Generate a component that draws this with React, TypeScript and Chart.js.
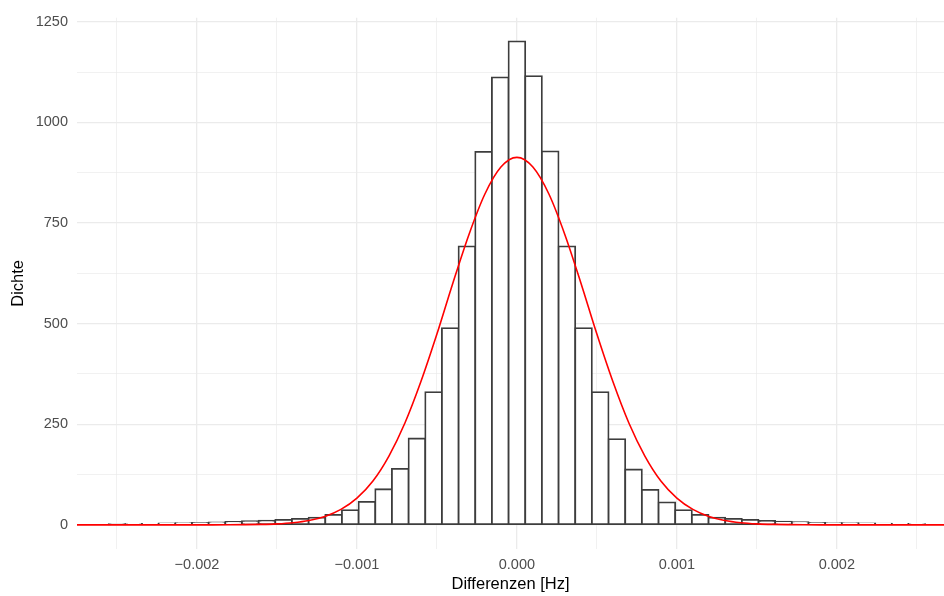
import { useEffect, useRef } from "react";
import { Chart, registerables } from "chart.js";

Chart.register(...registerables);

// Histogram: bin width (Hz) and bin indices (bin centre = index * width)
const binWidth = 0.00010417;
const binIndex = [
  -24, -23, -22, -21, -20, -19, -18, -17, -16, -15, -14, -13, -12, -11, -10, -9, -8, -7, -6, -5, -4, -3, -2, -1,
  0, 1, 2, 3, 4, 5, 6, 7, 8, 9, 10, 11, 12, 13, 14, 15, 16, 17, 18, 19, 20, 21, 22, 23, 24,
];
const density = [
  1.2, 1.8, 2.5, 3.3, 4.0, 4.9, 5.8, 7.4, 9.0, 10.6, 12.3, 14.7, 18.0, 24.6, 36.8, 57.3, 88.4, 139, 214.5, 330, 488.7, 692, 926.6, 1111.7,
  1201, 1115, 928, 692, 488.7, 330, 213, 137.5, 86.8, 55.7, 36.8, 24.6, 18.0, 14.7, 12.3, 9.8, 8.2, 6.5, 4.9, 4.5, 4.0, 3.3, 2.9, 2.5, 2.0,
];

// Fitted normal density curve (red line)
const curveX = [
  -0.00275, -0.0025, -0.0022, -0.002, -0.0019, -0.0018, -0.0017, -0.0016, -0.0015, -0.0014, -0.0013, -0.0012,
  -0.0011, -0.001, -0.0009, -0.0008, -0.0007, -0.0006, -0.0005, -0.0004, -0.0003, -0.0002, -0.0001, 0,
  0.0001, 0.0002, 0.0003, 0.0004, 0.0005, 0.0006, 0.0007, 0.0008, 0.0009, 0.001, 0.0011, 0.0012,
  0.0013, 0.0014, 0.0015, 0.0016, 0.0017, 0.0018, 0.0019, 0.002, 0.0022, 0.0025, 0.00267,
];
const curveY = [
  0, 0, 0, 0.01, 0.05, 0.17, 0.45, 1.1, 2.5, 5.4, 10.9, 21,
  38.4, 66.5, 109, 171, 253, 356, 474, 601, 721, 822, 889, 913,
  889, 822, 721, 601, 474, 356, 253, 171, 109, 66.5, 38.4, 21,
  10.9, 5.4, 2.5, 1.1, 0.45, 0.17, 0.05, 0.01, 0, 0, 0,
];

const xMajorTicks = [-0.002, -0.001, 0, 0.001, 0.002];
const xTickLabels = ["\u22120.002", "\u22120.001", "0.000", "0.001", "0.002"];
const xMinorTicks = [-0.0025, -0.0015, -0.0005, 0.0005, 0.0015, 0.0025];
const yMajorTicks = [0, 250, 500, 750, 1000, 1250];
const yTickLabels = ["0", "250", "500", "750", "1000", "1250"];
const yMinorTicks = [125, 375, 625, 875, 1125];

const xTitle = "Differenzen [Hz]";
const yTitle = "Dichte";

const FONT = "'Liberation Sans', Arial, Helvetica, sans-serif";

function findIdx(list: number[], v: number) {
  for (let i = 0; i < list.length; i++) if (Math.abs(list[i] - v) < 1e-9) return i;
  return -1;
}

export default function App() {
  const ref = useRef<HTMLCanvasElement | null>(null);

  useEffect(() => {
    document.body.style.margin = "0";
    const canvas = ref.current;
    if (!canvas) return;

    const bars = binIndex.map((k, i) => ({ x: k * binWidth, y: density[i] }));
    const curve = curveX.map((x, i) => ({ x, y: curveY[i] }));

    const chart = new Chart(canvas, {
      type: "bar",
      data: {
        datasets: [
          {
            type: "line",
            data: curve,
            borderColor: "#FF0000",
            borderWidth: 1.6,
            pointRadius: 0,
            fill: false,
            cubicInterpolationMode: "monotone",
            order: 0,
          } as any,
          {
            type: "bar",
            data: bars,
            backgroundColor: "#FFFFFF",
            borderColor: "#3d3d3d",
            borderWidth: 1.8,
            borderSkipped: false,
            categoryPercentage: 1,
            barPercentage: 1,
            inflateAmount: 0.9,
            order: 1,
          } as any,
        ],
      },
      options: {
        responsive: false,
        animation: false,
        devicePixelRatio: 1,
        layout: { padding: { top: 12, right: 0, left: 0, bottom: 0 } },
        plugins: { legend: { display: false }, tooltip: { enabled: false } },
        scales: {
          x: {
            type: "linear",
            offset: false,
            min: -0.00275,
            max: 0.00267,
            afterBuildTicks: (s: any) => {
              s.ticks = [...xMajorTicks, ...xMinorTicks].sort((a, b) => a - b).map((v) => ({ value: v }));
            },
            afterFit: (s: any) => {
              s.height = 47;
            },
            ticks: {
              autoSkip: false,
              maxRotation: 0,
              padding: 7,
              color: "#4D4D4D",
              font: { family: FONT, size: 14.5 },
              callback: (v: any) => {
                const i = findIdx(xMajorTicks, Number(v));
                return i >= 0 ? xTickLabels[i] : "";
              },
            },
            grid: {
              offset: false,
              drawTicks: false,
              color: "#EBEBEB",
              lineWidth: (ctx: any) => (findIdx(xMajorTicks, ctx.tick?.value) >= 0 ? 1.3 : 0.7),
            },
            border: { display: false },
            title: {
              display: true,
              text: xTitle,
              color: "#000000",
              font: { family: FONT, size: 16.5 },
              padding: { top: 0, bottom: 2 },
            },
          },
          y: {
            type: "linear",
            min: -60,
            max: 1260,
            afterBuildTicks: (s: any) => {
              s.ticks = [...yMajorTicks, ...yMinorTicks].sort((a, b) => a - b).map((v) => ({ value: v }));
            },
            afterFit: (s: any) => {
              s.width = 77;
            },
            ticks: {
              autoSkip: false,
              padding: 9,
              color: "#4D4D4D",
              font: { family: FONT, size: 14.5 },
              callback: (v: any) => {
                const i = findIdx(yMajorTicks, Number(v));
                return i >= 0 ? yTickLabels[i] : "";
              },
            },
            grid: {
              drawTicks: false,
              color: "#EBEBEB",
              lineWidth: (ctx: any) => (findIdx(yMajorTicks, ctx.tick?.value) >= 0 ? 1.3 : 0.7),
            },
            border: { display: false },
            title: {
              display: true,
              text: yTitle,
              color: "#000000",
              font: { family: FONT, size: 16.5 },
              padding: { top: 8.6, bottom: 0 },
            },
          },
        },
      },
    } as any);

    return () => chart.destroy();
  }, []);

  return (
    <div style={{ width: 944, height: 596, position: "relative", background: "#FFFFFF" }}>
      <canvas ref={ref} width={944} height={596} style={{ display: "block" }} />
    </div>
  );
}
